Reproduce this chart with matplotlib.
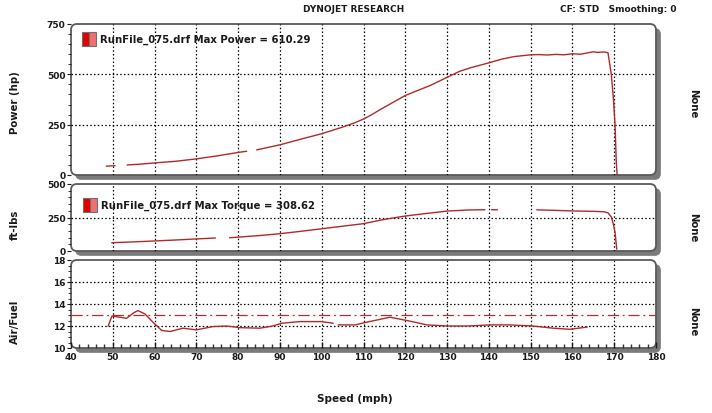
import numpy as np
import matplotlib
matplotlib.use("Agg")
import matplotlib.pyplot as plt
from matplotlib.patches import FancyBboxPatch, Rectangle
from matplotlib.ticker import MultipleLocator

nan = np.nan

# power run (hp vs mph), nan = gap in the trace
speed_hp = [48.5, 50.5, nan, 53.5, 56, 60, 65, 70, 75, 80, 82, nan, 84.5, 90, 95, 100, 105, 108,
            110, 112, 114, 117, 120, 123, 126, 130, 133, 136, 140, 143, 146, 150, 152, 154, 156,
            158, 160, 162, 164, 165, 166, 167.5, 168.5, 169.3, 169.8, 170.2, 170.5, 170.7]
power_hp = [44, 46, nan, 50, 53, 60, 68, 80, 95, 112, 118, nan, 125, 150, 178, 205, 238, 260,
            278, 300, 325, 360, 395, 420, 445, 485, 515, 535, 557, 575, 588, 597, 598, 596, 599,
            597, 602, 600, 608, 612, 609, 611, 608, 500, 380, 250, 60, 0]

# torque (ft-lbs)
speed_tq = [49.8, 55, 60, 65, 70, 74.5, nan, 78, 85, 90, 95, 100, 105, 110, 114, 117, 120, 125,
            130, 135, 139, nan, 140.7, 142, nan, 151.5, 155, 160, 165, 167.5, 168.5, 169.3,
            169.8, 170.2, 170.6]
torque = [62, 68, 75, 82, 90, 97, nan, 99, 115, 129, 147, 166, 185, 204, 230, 246, 261, 280,
          298, 306, 308, nan, 308, 308, nan, 307, 304, 299, 296, 293, 285, 254,
          200, 140, 15]

# air / fuel ratio
speed_afr = [48.9, 49.8, 51.7, 53.3, 55, 56, 57.7, 59.6, 61.7, 63.7, 66.8, 70, 72, 74, 77.3,
             80.4, 85.2, 88.3, 90.4, 94.8, 100, 102.7, nan, 104, 108, 110.8, 113.9, 116.3,
             120.4, 125.2, 130.2, 135, 140.2, 145, 150.5, 155.4, 159.4, 163.5]
afr = [12.0, 12.9, 12.8, 12.7, 13.2, 13.4, 13.1, 12.35, 11.6, 11.5, 11.8, 11.65, 11.8, 11.95,
       12.0, 11.85, 11.8, 12.0, 12.25, 12.4, 12.4, 12.25, nan, 12.1, 12.1, 12.35, 12.6, 12.8,
       12.5, 12.1, 12.0, 12.0, 12.1, 12.1, 12.0, 11.8, 11.7, 11.9]
afr_target = 13.0

max_power = 610.29
max_torque = 308.62
x_ticks = list(range(40, 181, 10))

W, H = 7.12, 4.14
fig = plt.figure(figsize=(W, H), dpi=100)
plt.rcParams['font.family'] = 'DejaVu Sans'
line_col = '#b02a2a'
txt_col = '#1a1a1a'


def px(x, y):
    # pixel (from top-left) -> inches for dpi_scale_trans
    return x / 100.0, (414 - y) / 100.0


def panel(left, top, right, bottom):
    rect = [left / 712, 1 - bottom / 414, (right - left) / 712, (bottom - top) / 414]
    x0, y0 = px(left, bottom)
    w, h = (right - left) / 100.0, (bottom - top) / 100.0
    shadow = FancyBboxPatch((x0 + 0.045, y0 - 0.045), w, h, boxstyle="round,pad=0,rounding_size=0.06",
                            transform=fig.dpi_scale_trans, fc='#7a7a7a', ec='#7a7a7a', lw=0.5, zorder=-3)
    box = FancyBboxPatch((x0, y0), w, h, boxstyle="round,pad=0,rounding_size=0.06",
                         transform=fig.dpi_scale_trans, fc='white', ec='#5a5a5a', lw=1.3, zorder=-2)
    fig.add_artist(shadow)
    fig.add_artist(box)
    ax = fig.add_axes(rect)
    ax.patch.set_visible(False)
    for s in ax.spines.values():
        s.set_visible(False)
    ax.set_xlim(40, 180)
    for xv in x_ticks[1:-1]:
        ax.axvline(xv, color='black', lw=0.9, ls=(0, (1.2, 1.8)), zorder=1)
    ax.tick_params(axis='y', which='major', length=3, width=0.8, colors=txt_col, labelsize=6.5, pad=1)
    ax.tick_params(axis='y', which='minor', length=2, width=0.6, colors=txt_col)
    for lab in ax.get_yticklabels():
        lab.set_fontweight('bold')
    return ax


def hgrid(ax, levels):
    for yv in levels:
        ax.axhline(yv, color='black', lw=0.9, ls=(0, (1.2, 1.8)), zorder=1)


def legend_box(x, y, text):
    x0, y0 = px(x, y + 14)
    fig.add_artist(Rectangle((x0, y0), 0.075, 0.14, transform=fig.dpi_scale_trans,
                             fc='#e00000', ec='#707070', lw=0.8))
    fig.add_artist(Rectangle((x0 + 0.075, y0), 0.07, 0.14, transform=fig.dpi_scale_trans,
                             fc='#f07070', ec='#707070', lw=0.8))
    tx, ty = px(x + 18, y + 7)
    fig.text(tx / W, ty / H, text, fontsize=7.3, fontweight='bold', color=txt_col,
             va='center', ha='left')


# power panel
ax1 = panel(71, 25, 656, 176)
ax1.set_ylim(0, 750)
ax1.set_yticks([0, 250, 500, 750])
ax1.yaxis.set_minor_locator(MultipleLocator(50))
ax1.set_xticks([])
hgrid(ax1, [250, 500])
ax1.plot(speed_hp, power_hp, color=line_col, lw=1.0, zorder=3)
for lab in ax1.get_yticklabels():
    lab.set_fontweight('bold')

# torque panel
ax2 = panel(71, 185, 656, 252)
ax2.set_ylim(0, 500)
ax2.set_yticks([0, 250, 500])
ax2.yaxis.set_minor_locator(MultipleLocator(50))
ax2.set_xticks([])
hgrid(ax2, [250])
ax2.plot(speed_tq, torque, color=line_col, lw=1.0, zorder=3)
for lab in ax2.get_yticklabels():
    lab.set_fontweight('bold')

# air/fuel panel
ax3 = panel(71, 261, 656, 349)
ax3.set_ylim(10, 18)
ax3.set_yticks([10, 12, 14, 16, 18])
ax3.yaxis.set_minor_locator(MultipleLocator(0.5))
ax3.set_xticks(x_ticks)
ax3.xaxis.set_minor_locator(MultipleLocator(2))
ax3.tick_params(axis='x', which='major', direction='in', length=4, width=1.0, colors=txt_col,
                labelsize=6.5, pad=3)
ax3.tick_params(axis='x', which='minor', direction='in', length=3, width=1.0, colors='#303030')
hgrid(ax3, [12, 14, 16])
ax3.axhline(afr_target, color='#a83232', lw=0.9, ls=(0, (9, 3, 1.5, 3)), zorder=2)
ax3.plot(speed_afr, afr, color=line_col, lw=1.0, zorder=3)
for lab in ax3.get_yticklabels() + ax3.get_xticklabels():
    lab.set_fontweight('bold')

legend_box(82, 33, f"RunFile_075.drf Max Power = {max_power:.2f}")
legend_box(83, 199, f"RunFile_075.drf Max Torque = {max_torque:.2f}")

# header / labels
fig.text(354 / 712, 1 - 9 / 414, "DYNOJET RESEARCH", fontsize=6.5, fontweight='bold',
         color=txt_col, ha='center', va='center')
fig.text(618 / 712, 1 - 10 / 414, "CF: STD   Smoothing: 0", fontsize=6.5, fontweight='bold',
         color=txt_col, ha='center', va='center')
for label, yp in [("Power (hp)", 103), ("ft-lbs", 225), ("Air/Fuel", 322)]:
    fig.text(15 / 712, 1 - yp / 414, label, fontsize=7.3, fontweight='bold', color=txt_col,
             rotation=90, ha='center', va='center')
for yp in [104, 228, 322]:
    fig.text(693 / 712, 1 - yp / 414, "None", fontsize=7.3, fontweight='bold', color=txt_col,
             rotation=-90, ha='center', va='center')
fig.text(355 / 712, 1 - 399 / 414, "Speed (mph)", fontsize=7.5, fontweight='bold',
         color=txt_col, ha='center', va='center')

fig.savefig("out.png", dpi=100)
plt.close(fig)
